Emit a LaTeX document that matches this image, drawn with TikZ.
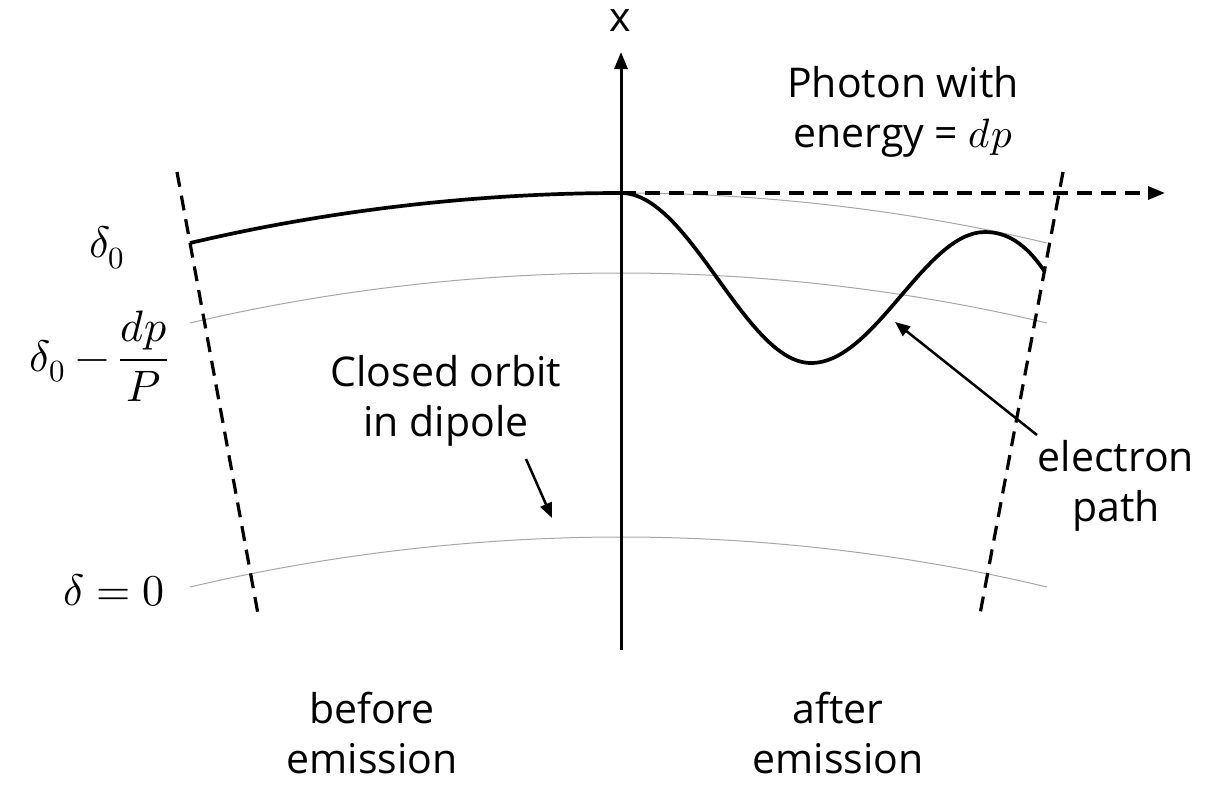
\documentclass[tikz,border=0pt]{standalone}
\usepackage{fontspec}
\usepackage{unicode-math}
\setmainfont{Open Sans}
\setmathfont{Latin Modern Math}
\usetikzlibrary{arrows.meta}
\begin{document}
\begin{tikzpicture}[x=1pt,y=-1pt,
  lbl/.style={font=\fontsize{41}{50}\selectfont, inner sep=0pt, align=center},
  mlbl/.style={font=\fontsize{44}{54}\selectfont, inner sep=0pt},
  thickline/.style={line width=3.7pt},
  orbit/.style={line width=1pt, draw=black!35},
  bound/.style={line width=3.2pt, dash pattern=on 15pt off 9pt},
  bigtip/.style={-{Triangle[length=17pt,width=13pt]}},
  smalltip/.style={-{Triangle[length=15pt,width=12pt]}}]
\useasboundingbox (0,0) rectangle (1214,785);
% coordinates
\coordinate (O) at (621,193);
\coordinate (axB) at (621,650);
\coordinate (axT) at (621,52);
\coordinate (phE) at (1165,193);
\coordinate (L0) at (190,243);
\coordinate (R0) at (1047,243);
\coordinate (L1) at (190,323);
\coordinate (P1) at (621,273);
\coordinate (R1) at (1047,323);
\coordinate (L2) at (190,587);
\coordinate (P2) at (621,537);
\coordinate (R2) at (1047,587);
\coordinate (bLt) at (177,172);
\coordinate (bLb) at (258,614);
\coordinate (bRt) at (1063,172);
\coordinate (bRb) at (980,614);
\coordinate (trough) at (811,363);
\coordinate (crest) at (985,232);
\coordinate (eEnd) at (1045,272);
\coordinate (eTip) at (895,322);
\coordinate (eTail) at (1037,435);
\coordinate (cTip) at (552,518);
\coordinate (cTail) at (526,459);
% orbits
\draw[orbit] (O) parabola (R0);
\draw[orbit] (L1) parabola bend (P1) (R1);
\draw[orbit] (L2) parabola bend (P2) (R2);
% boundaries
\draw[bound] (bLt) -- (bLb);
\draw[bound] (bRt) -- (bRb);
% axis
\draw[line width=3pt, bigtip] (axB) -- (axT);
% photon
\draw[bound, bigtip] (O) -- (phE);
% electron path before
\draw[thickline] (L0) parabola[bend at end] (O);
% electron path after
\draw[thickline, line join=round] (O) .. controls (690,193) and (745,363) .. (trough)
  .. controls (875,363) and (925,232) .. (crest)
  .. controls (1012,232) and (1030,250) .. (eEnd);
% labels
\node[lbl] (xl) at (620,21) {x};
\node[lbl] (ph) at (903,112) {Photon with\\energy = $dp$};
\node[mlbl] (d0) at (107,248) {$\delta_0$};
\node[mlbl] (d1) at (99,356) {$\displaystyle\delta_0-\frac{dp}{P}$};
\node[mlbl] (dz) at (114,590) {$\delta=0$};
\node[lbl] (co) at (446,401) {Closed orbit\\in dipole};
\node[lbl] (el) at (1116,486) {electron\\path};
\node[lbl] (be) at (372,733) {before\\emission};
\node[lbl] (af) at (838,733) {after\\emission};
% annotation arrows
\draw[line width=2.5pt, smalltip] (eTail) -- (eTip);
\draw[line width=2.5pt, smalltip] (cTail) -- (cTip);
\end{tikzpicture}
\end{document}
